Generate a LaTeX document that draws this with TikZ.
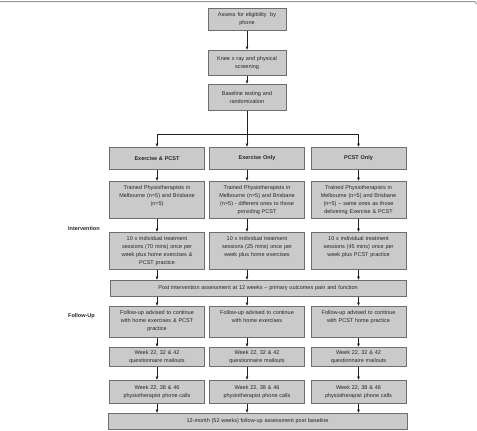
\documentclass[tikz,border=0pt]{standalone}
\usepackage{fontspec}
\setmainfont{Liberation Sans}
\usetikzlibrary{arrows.meta,calc}
\definecolor{boxFill}{HTML}{CACACA}
\definecolor{boxEdge}{HTML}{6E6E6E}
\definecolor{arrCol}{HTML}{202020}
\definecolor{frameCol}{HTML}{9A9A9A}
\newcommand{\boxfont}{\fontsize{5.5}{8}\selectfont}
\tikzset{
  stepbox/.style={draw=boxEdge, fill=boxFill, line width=0.8pt, anchor=north, align=center,
                  font=\boxfont, text=black!85, inner xsep=2pt, inner ysep=3pt, text width=#1},
  topfill/.style={text height=5pt, text depth=#1},   % text kept at the top of the box
  arr/.style={-{Latex[length=3.5pt,width=3pt]}, line width=0.6pt, arrCol},
  phaselbl/.style={anchor=west, font=\boxfont\bfseries, text=black!85, inner sep=0pt},
}

\begin{document}
\begin{tikzpicture}[x=1pt,y=1pt]
  \def\xT{247}\def\xL{157}\def\xM{257}\def\xR{358.5}
  \def\wT{74pt}\def\wC{91pt}
  \useasboundingbox (0,0) rectangle (477,-431);
  \draw[frameCol, line width=1pt] (0,-1.5) -- (475,-1.5) -- (476.5,-4);

  % screening
  \node[stepbox=\wT, minimum height=22pt] (b1) at (\xT,-8) {Assess for eligibility\ \ by\\phone};
  \node[stepbox=\wT, minimum height=25pt] (b2) at (\xT,-50) {Knee x ray and physical\\screening};
  \node[stepbox=\wT, minimum height=26pt] (b3) at (\xT,-84) {Baseline testing and\\randomization};

  % arms
  \node[stepbox=\wC, minimum height=22pt, font=\boxfont\bfseries] (l1) at (\xL,-147) {Exercise \& PCST};
  \node[stepbox=\wC, minimum height=22pt, font=\boxfont\bfseries] (m1) at (\xM,-147) {Exercise Only};
  \node[stepbox=\wC, minimum height=22pt, font=\boxfont\bfseries] (r1) at (\xR,-147) {PCST Only};

  \node[stepbox=\wC, topfill=26pt] (l2) at (\xL,-181) {Trained Physiotherapists in\\Melbourne (n=5) and Brisbane\\(n=5)};
  \node[stepbox=\wC, topfill=26pt] (m2) at (\xM,-181) {Trained Physiotherapists in\\Melbourne (n=5) and Brisbane\\(n=5) - different ones to those\\providing PCST};
  \node[stepbox=\wC, topfill=26pt] (r2) at (\xR,-181) {Trained Physiotherapists in\\Melbourne (n=5) and Brisbane\\(n=5) -- same ones as those\\delivering Exercise \& PCST};

  \node[stepbox=\wC, topfill=26pt] (l3) at (\xL,-232) {10 x individual treatment\\sessions (70 mins) once per\\week plus home exercises \&\\PCST practice};
  \node[stepbox=\wC, topfill=26pt] (m3) at (\xM,-232) {10 x individual treatment\\sessions (25 mins) once per\\week plus home exercises};
  \node[stepbox=\wC, topfill=26pt] (r3) at (\xR,-232) {10 x individual treatment\\sessions (45 mins) once per\\week plus PCST practice};

  \node[stepbox=292pt, minimum height=16pt] (post) at (258,-280) {Post intervention assessment at 12 weeks -- primary outcomes pain and function};

  % follow-up
  \node[stepbox=\wC, topfill=20pt] (l4) at (\xL,-306) {Follow-up advised to continue\\with home exercises \& PCST\\practice};
  \node[stepbox=\wC, topfill=20pt] (m4) at (\xM,-306) {Follow-up advised to continue\\with home exercises};
  \node[stepbox=\wC, topfill=20pt] (r4) at (\xR,-306) {Follow-up advised to continue\\with PCST home practice};

  \node[stepbox=\wC, minimum height=19pt] (l5) at (\xL,-347) {Week 22, 32 \& 42\\questionnaire mailouts};
  \node[stepbox=\wC, minimum height=19pt] (m5) at (\xM,-347) {Week 22, 32 \& 42\\questionnaire mailouts};
  \node[stepbox=\wC, minimum height=19pt] (r5) at (\xR,-347) {Week 22, 32 \& 42\\questionnaire mailouts};

  \node[stepbox=\wC, minimum height=23pt] (l6) at (\xL,-380) {Week 22, 38 \& 46\\physiotherapist phone calls};
  \node[stepbox=\wC, minimum height=23pt] (m6) at (\xM,-380) {Week 22, 38 \& 46\\physiotherapist phone calls};
  \node[stepbox=\wC, minimum height=23pt] (r6) at (\xR,-380) {Week 22, 38 \& 46\\physiotherapist phone calls};

  \node[stepbox=295pt, minimum height=16pt] (final) at (257.5,-413) {12-month (52 weeks) follow-up assessment post baseline};

  \node[phaselbl] (intv) at (68,-229) {Intervention};
  \node[phaselbl] (fu) at (68,-316) {Follow-Up};

  % arrows
  \draw[arr] (b1) -- (b2);
  \draw[arr] (b2) -- (b3);
  \draw[arr] (b3.south) -- (m1.north -| b3);
  \draw[arr] (b3.south) -- ++(0,-23) -| (l1.north);
  \draw[arr] (b3.south) -- ++(0,-23) -| (r1.north);
  \foreach \col/\a in {l/l1,m/b3,r/r1}{
    \draw[arr] (\col1.south -| \a) -- (\col2.north -| \a);
    \draw[arr] (\col2.south -| \a) -- (\col3.north -| \a);
    \draw[arr] (\col3.south -| \a) -- (post.north -| \a);
    \draw[arr] (post.south -| \a) -- (\col4.north -| \a);
    \draw[arr] (\col4.south -| \a) -- (\col5.north -| \a);
    \draw[arr] (\col5.south -| \a) -- (\col6.north -| \a);
    \draw[arr] (\col6.south -| \a) -- (final.north -| \a);
  }
\end{tikzpicture}
\end{document}
